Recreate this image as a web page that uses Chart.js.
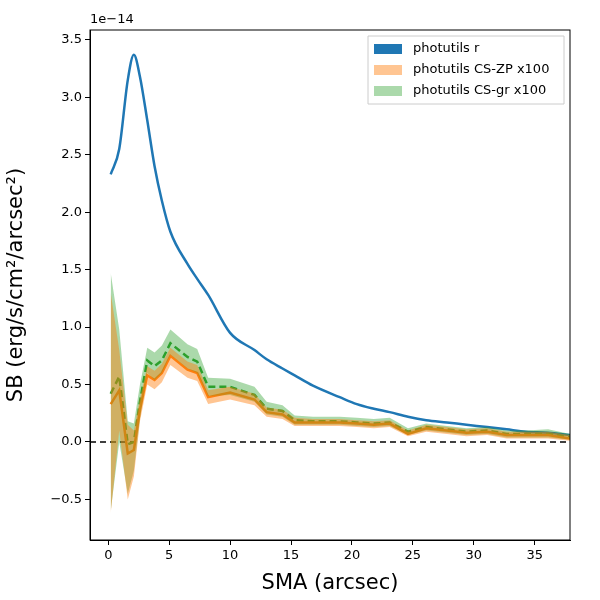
<!DOCTYPE html>
<html><head><meta charset="utf-8">
<script src="https://cdn.jsdelivr.net/npm/chart.js@4"></script>
<style>body{margin:0;background:#fff}#wrap{width:600px;height:600px}</style>
</head><body><div id="wrap"><canvas id="c"></canvas></div>
<script>
// SB values in units of 1e-14
const sma = [0.2,0.9,1.6,2.1,2.6,3.2,3.8,4.4,5.1,6.5,7.3,8.2,10.0,12.0,13.0,14.3,15.3,16.8,19.0,20.4,21.8,23.1,24.6,26.1,27.8,29.4,31.1,32.7,34.3,36.1,37.9];
const sbR = [2.33,2.55,3.15,3.37,3.18,2.8,2.4,2.1,1.83,1.55,1.42,1.28,0.95,0.8,0.72,0.64,0.58,0.49,0.39,0.33,0.29,0.26,0.22,0.19,0.17,0.15,0.13,0.11,0.09,0.08,0.06];
const sbZP = [0.33,0.45,-0.10,-0.07,0.28,0.58,0.54,0.60,0.75,0.63,0.60,0.39,0.43,0.37,0.26,0.24,0.17,0.17,0.17,0.16,0.15,0.16,0.07,0.12,0.10,0.08,0.09,0.06,0.06,0.06,0.03];
const zpHi = [1.30,0.80,0.15,0.10,0.38,0.66,0.62,0.68,0.82,0.70,0.67,0.45,0.48,0.42,0.30,0.28,0.21,0.20,0.20,0.19,0.18,0.19,0.10,0.15,0.13,0.11,0.12,0.09,0.09,0.09,0.06];
const zpLo = [-0.62,0.10,-0.50,-0.30,0.18,0.50,0.46,0.52,0.67,0.56,0.53,0.33,0.37,0.32,0.22,0.20,0.14,0.14,0.14,0.13,0.12,0.13,0.05,0.09,0.07,0.05,0.06,0.03,0.03,0.03,0.01];
const sbGR = [0.42,0.57,-0.02,0.0,0.35,0.71,0.66,0.71,0.86,0.74,0.70,0.48,0.48,0.41,0.29,0.27,0.19,0.18,0.18,0.17,0.16,0.17,0.09,0.13,0.11,0.09,0.10,0.07,0.07,0.07,0.04];
const grHi = [1.47,0.98,0.18,0.16,0.50,0.82,0.78,0.84,0.98,0.85,0.81,0.56,0.55,0.48,0.35,0.32,0.23,0.22,0.22,0.21,0.20,0.21,0.12,0.16,0.14,0.12,0.13,0.10,0.10,0.11,0.07];
const grLo = [-0.60,0.0,-0.45,-0.25,0.20,0.60,0.54,0.60,0.76,0.64,0.60,0.40,0.41,0.35,0.24,0.22,0.15,0.15,0.15,0.14,0.13,0.14,0.06,0.10,0.08,0.06,0.07,0.04,0.04,0.04,0.02];
const yTicks = [-0.5,0,0.5,1,1.5,2,2.5,3,3.5];
const xTicks = [0,5,10,15,20,25,30,35];

const pts = ys => sma.map((x,i) => ({x:x, y:ys[i]}));
const base = {pointRadius:0, borderWidth:0, tension:0};

const legendItems = [
  ['photutils r','#1f77b4'],
  ['photutils CS-ZP x100','rgba(255,127,14,0.45)'],
  ['photutils CS-gr x100','rgba(44,160,44,0.4)']
];
const legendPlugin = {
  id:'lg',
  afterDraw(ch){
    const c = ch.ctx, a = ch.chartArea;
    c.save();
    c.strokeStyle = '#000'; c.lineWidth = 1;
    c.strokeRect(a.left, a.top, a.right - a.left, a.bottom - a.top);
    c.font = '13px "DejaVu Sans"';
    const w = 196, h = 68, x0 = a.right - w - 6, y0 = a.top + 6;
    c.fillStyle = 'rgba(255,255,255,0.8)';
    c.strokeStyle = '#ccc';
    c.beginPath(); c.rect(x0, y0, w, h); c.fill(); c.stroke();
    legendItems.forEach((it,i) => {
      const yy = y0 + 13 + i*21;
      c.fillStyle = it[1];
      c.fillRect(x0+6, yy-5, 28, 10);
      c.fillStyle = '#000';
      c.textBaseline = 'middle';
      c.fillText(it[0], x0+45, yy);
    });
    c.fillText('1e\u221214', a.left, a.top - 10);
    c.restore();
  }
};

new Chart(document.getElementById('c'), {
  type:'line',
  data:{datasets:[
    {...base, data:pts(zpHi), fill:'+1', backgroundColor:'rgba(255,127,14,0.45)'},
    {...base, data:pts(zpLo), fill:false},
    {...base, data:pts(grHi), fill:'+1', backgroundColor:'rgba(44,160,44,0.4)'},
    {...base, data:pts(grLo), fill:false},
    {...base, data:pts(sbZP), borderColor:'#ff7f0e', borderWidth:2.5, fill:false},
    {...base, data:pts(sbGR), borderColor:'#2ca02c', borderWidth:2.5, borderDash:[7,4], fill:false},
    {...base, data:pts(sbR), borderColor:'#1f77b4', borderWidth:2.5, fill:false, cubicInterpolationMode:'monotone'},
    {...base, data:[{x:-1.5,y:0},{x:37.9,y:0}], borderColor:'#000', borderWidth:1.5, borderDash:[6,4], fill:false}
  ]},
  options:{
    responsive:true, maintainAspectRatio:false, animation:false,
    layout:{padding:{top:30,right:30,left:0,bottom:0}},
    plugins:{legend:{display:false}, tooltip:{enabled:false}},
    scales:{
      x:{type:'linear', min:-1.5, max:37.9,
        afterBuildTicks:s => { s.ticks = xTicks.map(v => ({value:v})); },
        afterFit:s => { s.height = 60; },
        grid:{drawOnChartArea:false, color:'#000', tickLength:5},
        border:{color:'#000'},
        ticks:{color:'#000', font:{family:'DejaVu Sans', size:13}},
        title:{display:true, text:'SMA (arcsec)', color:'#000', font:{family:'DejaVu Sans', size:21}, padding:{top:2}}
      },
      y:{min:-0.853, max:3.586,
        afterBuildTicks:s => { s.ticks = yTicks.map(v => ({value:v})); },
        afterFit:s => { s.width = 90; },
        grid:{drawOnChartArea:false, color:'#000', tickLength:5},
        border:{color:'#000'},
        ticks:{color:'#000', font:{family:'DejaVu Sans', size:13}, callback:v => v < 0 ? '\u2212' + Math.abs(v).toFixed(1) : v.toFixed(1)},
        title:{display:true, text:'SB (erg/s/cm\u00b2/arcsec\u00b2)', color:'#000', font:{family:'DejaVu Sans', size:21}}
      }
    }
  },
  plugins:[legendPlugin]
});
</script>
</body></html>
